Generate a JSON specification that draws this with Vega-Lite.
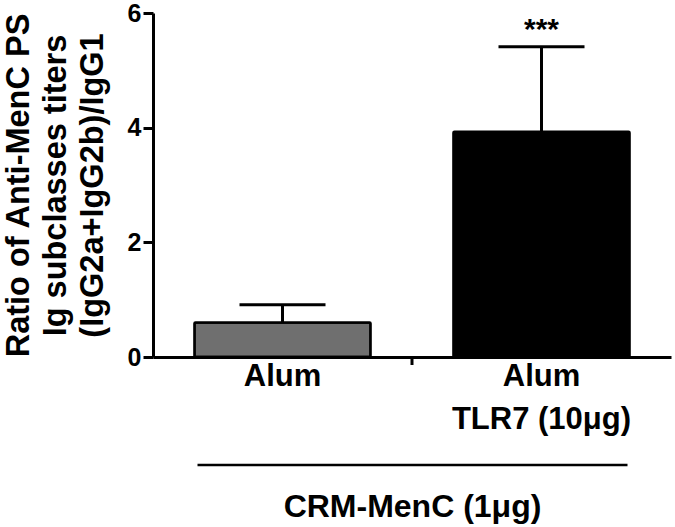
{
  "$schema": "https://vega.github.io/schema/vega-lite/v6.json",
  "autosize": "none",
  "padding": {"left": 153, "top": 13, "right": 4, "bottom": 170},
  "width": 518,
  "height": 344,
  "background": "white",
  "config": {
    "view": {"stroke": null},
    "font": "Liberation Sans"
  },
  "data": {
    "values": [
      {"group": "Alum", "mean": 0.6, "upper": 0.91, "sig": ""},
      {"group": "Alum\nTLR7 (10μg)", "mean": 3.93, "upper": 5.41, "sig": "***"}
    ]
  },
  "encoding": {
    "x": {
      "field": "group",
      "type": "nominal",
      "sort": null,
      "scale": {"paddingInner": 0, "paddingOuter": 0},
      "axis": {
        "title": "CRM-MenC (1μg)",
        "titleFont": "Liberation Sans",
        "titleFontSize": 32,
        "titleFontWeight": "bold",
        "titleColor": "black",
        "titlePadding": 57,
        "labelAngle": 0,
        "labelExpr": "split(datum.label, '\\n')",
        "labelFont": "Liberation Sans",
        "labelFontSize": 31,
        "labelFontWeight": "bold",
        "labelColor": "black",
        "labelLineHeight": 43,
        "labelPadding": 4,
        "labelBaseline": "top",
        "ticks": false,
        "tickSize": 0,
        "domainColor": "black",
        "domainWidth": 3
      }
    }
  },
  "layer": [
    {
      "mark": {"type": "bar", "width": {"band": 0.68}, "stroke": "black", "strokeWidth": 2.5, "cornerRadius": 1},
      "encoding": {
        "y": {
          "field": "mean",
          "type": "quantitative",
          "scale": {"domain": [0, 6], "nice": false},
          "axis": {
            "values": [0, 2, 4, 6],
            "format": "d",
            "title": ["Ratio of Anti-MenC PS", "Ig subclasses titers", "(IgG2a+IgG2b)/IgG1"],
            "titleFont": "Liberation Sans",
            "titleFontSize": 32.5,
            "titleFontWeight": "bold",
            "titleColor": "black",
            "titleLineHeight": 37,
            "titlePadding": 18,
            "labelFont": "Liberation Sans",
            "labelFontSize": 25,
            "labelFontWeight": "bold",
            "labelColor": "black",
            "labelPadding": 2,
            "tickSize": 10,
            "tickWidth": 3,
            "tickColor": "black",
            "domainColor": "black",
            "domainWidth": 3,
            "grid": false
          }
        },
        "fill": {
          "field": "group",
          "type": "nominal",
          "scale": {"range": ["#6f6f6f", "#000000"]},
          "legend": null
        }
      }
    },
    {
      "mark": {"type": "rule", "strokeWidth": 3, "color": "black"},
      "encoding": {
        "y": {"field": "mean", "type": "quantitative"},
        "y2": {"field": "upper"}
      }
    },
    {
      "mark": {"type": "tick", "orient": "horizontal", "size": 86, "thickness": 3, "color": "black", "opacity": 1},
      "encoding": {
        "y": {"field": "upper", "type": "quantitative"}
      }
    },
    {
      "mark": {"type": "text", "fontSize": 30, "font": "Liberation Sans", "fontWeight": "bold", "baseline": "alphabetic", "dy": -8, "color": "black"},
      "encoding": {
        "y": {"field": "upper", "type": "quantitative"},
        "text": {"field": "sig"}
      }
    },
    {
      "data": {"values": [{"group": "Alum"}]},
      "mark": {"type": "tick", "orient": "vertical", "size": 8, "thickness": 3, "color": "black", "opacity": 1, "yOffset": 4},
      "encoding": {
        "x": {"field": "group", "type": "nominal", "bandPosition": 1},
        "y": {"datum": 0, "type": "quantitative"}
      }
    },
    {
      "data": {"values": [{"group": "Alum"}]},
      "mark": {"type": "tick", "orient": "horizontal", "size": 430, "thickness": 2.5, "color": "black", "opacity": 1, "yOffset": 108, "xOffset": 130},
      "encoding": {
        "x": {"field": "group", "type": "nominal"},
        "y": {"datum": 0, "type": "quantitative"}
      }
    }
  ]
}
